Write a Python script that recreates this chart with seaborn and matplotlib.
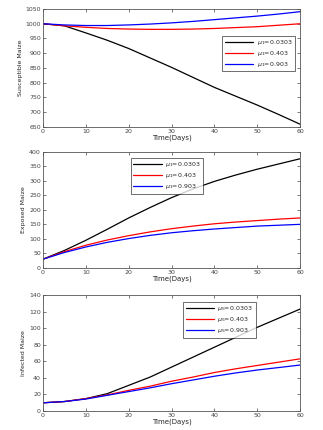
import numpy as np
import pandas as pd
import matplotlib
matplotlib.use("Agg")
import matplotlib.pyplot as plt
import seaborn as sns

sns.set_style("white")
plt.rcParams['font.family'] = ['DejaVu Sans']

days = [0, 5, 10, 15, 20, 25, 30, 35, 40, 45, 50, 55, 60]

sus_a = [1000, 993, 969, 944, 916, 884, 852, 818, 784, 754, 724, 692, 659]
sus_b = [1000, 993, 988, 984, 982, 981, 981, 982, 984, 987, 990, 995, 1000]
sus_c = [1000, 996, 994, 994, 996, 999, 1003, 1008, 1014, 1020, 1026, 1033, 1041]

exp_a = [30, 60, 95, 133, 172, 208, 242, 272, 298, 320, 340, 358, 376]
exp_b = [30, 56, 78, 96, 111, 124, 135, 144, 152, 158, 163, 168, 172]
exp_c = [30, 53, 72, 88, 101, 112, 121, 128, 134, 139, 144, 147, 150]

inf_a = [10, 11.5, 15, 21, 31, 41, 53, 65, 77, 89, 101, 112, 123]
inf_b = [10, 11.5, 15, 19.5, 25, 30, 36, 41, 46.5, 51, 55, 59, 63]
inf_c = [10, 11.5, 14.5, 19, 23.5, 28, 33, 37.5, 42, 46, 49.5, 52.5, 55.5]

labels12 = [r'$\mu_1$=0.0303', r'$\mu_1$=0.403', r'$\mu_1$=0.903']
labels3 = [r'$\mu_5$=0.0303', r'$\mu_5$=0.403', r'$\mu_5$=0.903']
colors = ['black', 'red', 'blue']

panels = [
    ("Susceptible Maize", [sus_a, sus_b, sus_c], labels12, (650, 1050), np.arange(650, 1051, 50), (0.685, 0.80)),
    ("Exposed Maize", [exp_a, exp_b, exp_c], labels12, (0, 400), np.arange(0, 401, 50), (0.33, 0.975)),
    ("Infected Maize", [inf_a, inf_b, inf_c], labels3, (0, 140), np.arange(0, 141, 20), (0.533, 0.967)),
]

fig = plt.figure(figsize=(3.23, 4.30), dpi=100)
rects = [
    [0.133, 0.705, 0.796, 0.274],
    [0.133, 0.377, 0.796, 0.270],
    [0.133, 0.044, 0.796, 0.270],
]

for rect, (ylab, series, labs, ylim, yt, legpos) in zip(rects, panels):
    ax = fig.add_axes(rect)
    frames = []
    for s, lab in zip(series, labs):
        frames.append(pd.DataFrame({"t": days, "v": s, "lab": lab}))
    df = pd.concat(frames)
    sns.lineplot(data=df, x="t", y="v", hue="lab", palette=dict(zip(labs, colors)),
                 ax=ax, linewidth=0.9, legend=True)
    ax.set_xlim(0, 60)
    ax.set_ylim(*ylim)
    ax.set_xticks(np.arange(0, 61, 10))
    ax.set_yticks(yt)
    ax.tick_params(direction='in', length=2, width=0.5, labelsize=4.5, pad=1.5,
                   top=True, right=True, bottom=True, left=True, colors='#444444')
    for sp in ax.spines.values():
        sp.set_linewidth(0.6)
        sp.set_color('#555555')
    ax.set_xlabel("Time(Days)", fontsize=5, labelpad=0.5)
    ax.set_ylabel(ylab, fontsize=4.5, labelpad=2)
    leg = ax.legend(loc='upper left', bbox_to_anchor=legpos, fontsize=4.5,
                    frameon=True, fancybox=False, edgecolor='black',
                    handlelength=4.5, borderpad=0.4, labelspacing=0.3,
                    handletextpad=0.6)
    leg.get_frame().set_linewidth(0.5)
    for h in leg.get_lines():
        h.set_linewidth(0.9)

fig.savefig("out.png", dpi=100)
